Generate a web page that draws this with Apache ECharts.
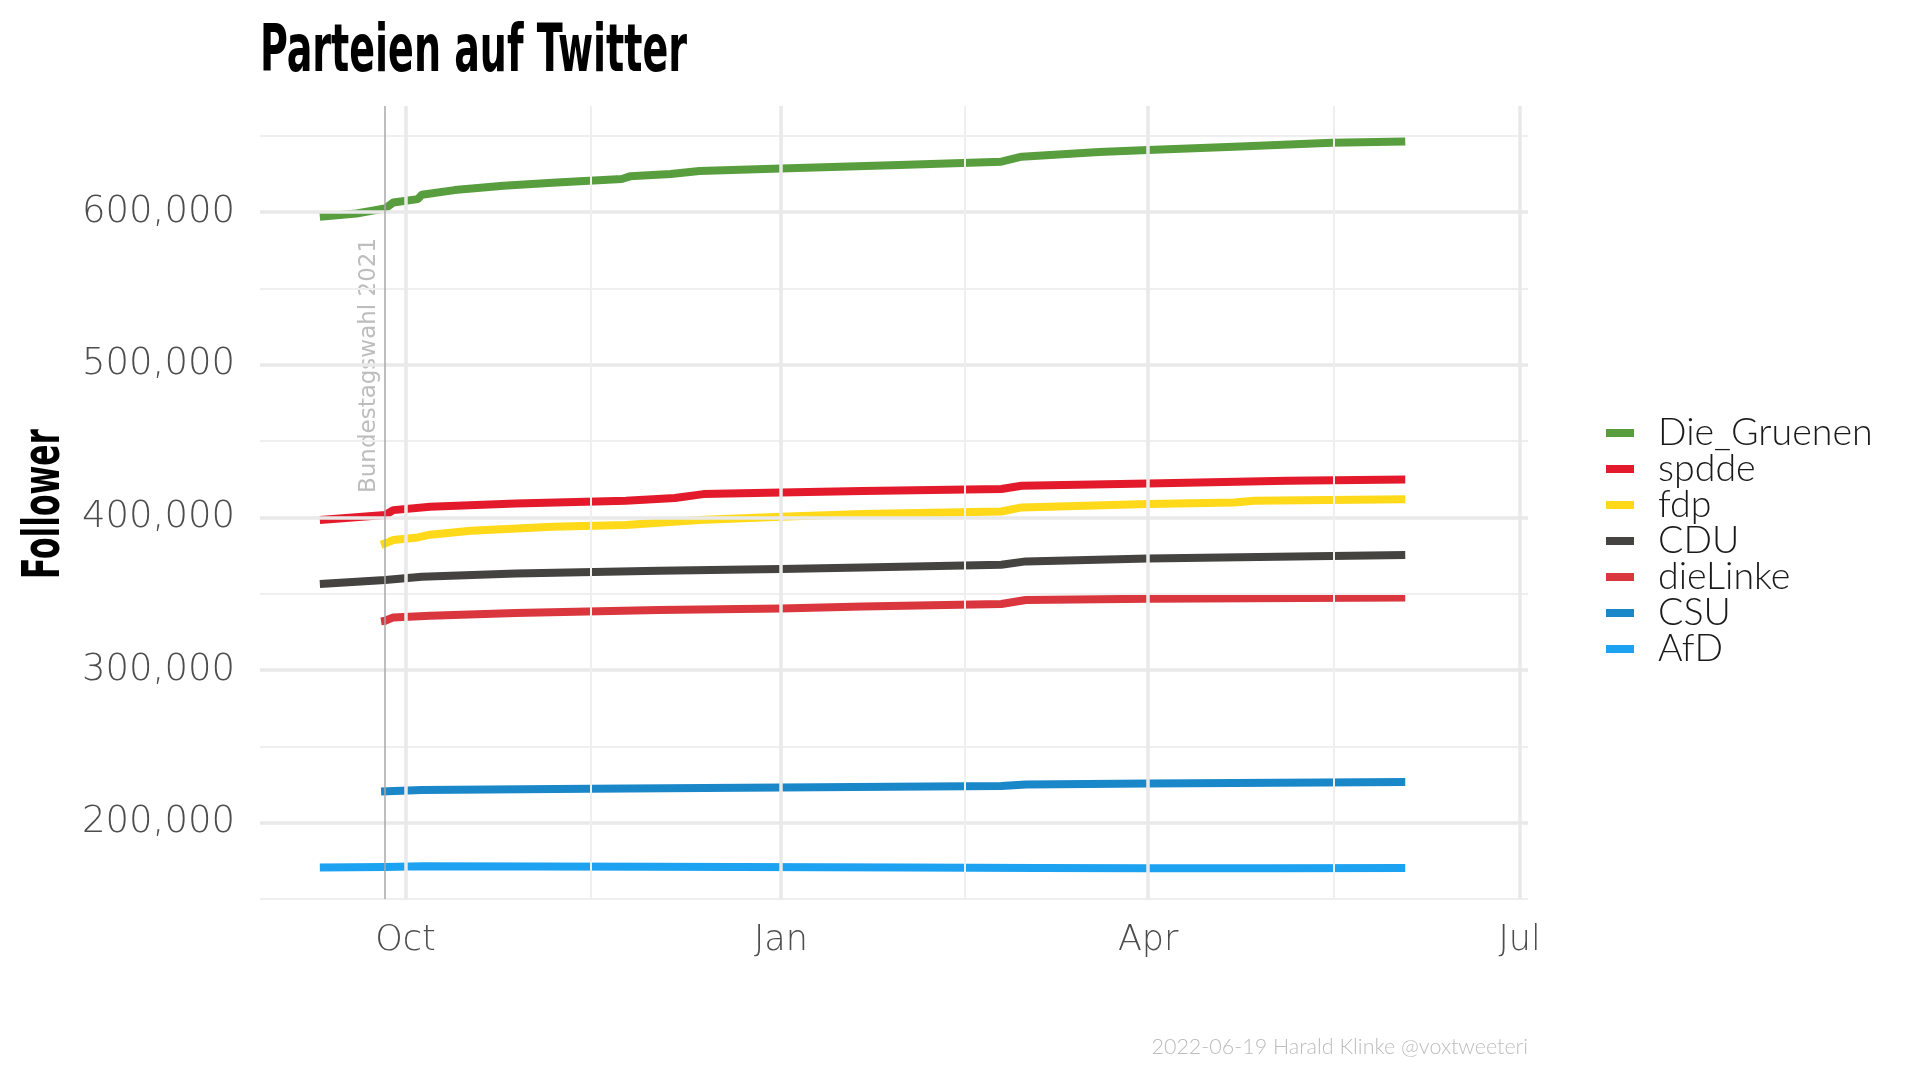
<!DOCTYPE html>
<html><head><meta charset="utf-8">
<script src="https://cdn.jsdelivr.net/npm/echarts@6/dist/echarts.min.js"></script>
<style>html,body{margin:0;padding:0;background:#fff}#c{width:1920px;height:1080px}</style>
</head><body><div id="c"></div>
<script>
// ---------- data ----------
const seriesNames = ['Die_Gruenen','spdde','fdp','CDU','dieLinke','CSU','AfD'];
const seriesColors = ['#599e3e','#e31a2b','#ffd91a','#454340','#da363d','#1a87c9','#1ca2f1'];

const gruenenDates  = ['2021-09-10','2021-09-19','2021-09-26','2021-09-28','2021-10-04','2021-10-05','2021-10-13','2021-10-25','2021-11-07','2021-11-23','2021-11-25','2021-12-05','2021-12-12','2022-01-01','2022-01-30','2022-02-24','2022-03-01','2022-03-20','2022-04-01','2022-04-22','2022-05-16','2022-06-03'];
const gruenenValues = [597100,599200,602500,606400,608600,611500,614500,617400,619500,621800,623500,625000,627000,628700,630900,633100,636400,639400,640800,642900,645500,646400];

const spddeDates  = ['2021-09-10','2021-09-26','2021-09-28','2021-10-07','2021-10-28','2021-11-24','2021-12-06','2021-12-13','2022-01-01','2022-01-21','2022-02-24','2022-03-01','2022-04-01','2022-05-05','2022-06-03'];
const spddeValues = [398300,401600,404800,407000,409200,410900,412700,415300,416400,417300,418600,420800,422300,424000,424900];

const fdpDates  = ['2021-09-25','2021-09-26','2021-09-28','2021-10-04','2021-10-07','2021-10-17','2021-11-06','2021-11-24','2021-12-12','2022-01-01','2022-01-21','2022-02-24','2022-03-01','2022-04-01','2022-04-22','2022-04-27','2022-06-03'];
const fdpValues = [382100,383000,385200,386900,388700,391300,393900,395000,398300,400500,402200,403900,406600,408800,409800,410900,412000];

const cduDates  = ['2021-09-10','2021-09-26','2021-10-05','2021-10-28','2021-12-02','2022-01-01','2022-01-21','2022-02-24','2022-03-02','2022-04-01','2022-06-03'];
const cduValues = [356400,359000,361100,363300,365100,366200,367200,369000,371200,373100,375400];

const linkeDates  = ['2021-09-25','2021-09-26','2021-09-28','2021-10-07','2021-10-28','2021-12-02','2022-01-01','2022-01-21','2022-02-24','2022-03-02','2022-04-01','2022-06-03'];
const linkeValues = [331900,332300,334500,335600,337400,339300,340400,341700,343300,345900,346700,347600];

const csuDates  = ['2021-09-25','2021-10-05','2021-11-15','2022-01-01','2022-02-24','2022-03-02','2022-04-01','2022-06-03'];
const csuValues = [220500,221500,222200,223000,224000,225000,225600,226700];

const afdDates  = ['2021-09-10','2021-09-26','2021-10-05','2021-12-01','2022-02-01','2022-03-05','2022-04-01','2022-05-01','2022-06-03'];
const afdValues = [170600,170900,171400,171100,170700,170300,170200,170100,170300];

const xTickDates   = ['2021-10-01','2022-01-01','2022-04-01','2022-07-01'];
const xTickLabels  = ['Oct','Jan','Apr','Jul'];
const xMinorDates  = ['2021-11-15T12:00','2022-02-15','2022-05-16T12:00'];
const xRange       = ['2021-08-26T08:00','2022-07-03T02:00'];
const yMajorTicks  = [200000,300000,400000,500000,600000];
const yMinorTicks  = [150000,250000,350000,450000,550000,650000];
const yRange       = [150000,669600];
const electionDate = '2021-09-26';
const annotationText = 'Bundestagswahl 2021';
const annotationValue = 416000;
const titleText = 'Parteien auf Twitter';
const yTitleText = 'Follower';
const captionText = '2022-06-19 Harald Klinke @voxtweeteri';

// ---------- helpers ----------
function ts(s){ return Date.parse(s.length === 10 ? s + 'T00:00:00Z' : s + ':00Z'); }
function pairs(d, v){ return d.map((x,i)=>[ts(x), v[i]]); }
const allData = [
  pairs(gruenenDates,gruenenValues), pairs(spddeDates,spddeValues), pairs(fdpDates,fdpValues),
  pairs(cduDates,cduValues), pairs(linkeDates,linkeValues), pairs(csuDates,csuValues), pairs(afdDates,afdValues)
];
const tickTs = xTickDates.map(ts);
function measure(text, font){
  const c = document.createElement('canvas').getContext('2d'); c.font = font;
  return c.measureText(text).width;
}
function fitScale(text, font, w){ return w / measure(text, font); }
function fitSize(text, weight, family, w){ return Math.round(20 * w / measure(text, weight + ' 20px ' + family) * 10) / 10; }

const lightFont = '"DejaVu Sans", sans-serif';
const legendFont = 'Lato, Roboto, "DejaVu Sans", sans-serif';
const condFont = '"Liberation Sans Narrow", "DejaVu Sans Condensed", "Liberation Sans", sans-serif';
const legendSize = fitSize('Die_Gruenen', '300', legendFont, 215);
const captionSize = fitSize(captionText, '300', legendFont, 377);

const majorLine = {color:'#e9e9e9', width:3.5, type:'solid'};
const minorLine = {color:'#efefef', width:2, type:'solid'};
const gridMarks = []
  .concat(yMinorTicks.map(v=>({yAxis:v, lineStyle:minorLine})))
  .concat(yMajorTicks.map(v=>({yAxis:v, lineStyle:majorLine})))
  .concat(xMinorDates.map(d=>({xAxis:ts(d), lineStyle:minorLine})))
  .concat(xTickDates.map(d=>({xAxis:ts(d), lineStyle:majorLine})))
  .concat([{xAxis:ts(electionDate), lineStyle:{color:'#a8a8a8', width:1.5, type:'solid'}}]);

const chart = echarts.init(document.getElementById('c'), null, {renderer:'canvas'});

const series = [{
  name:'_grid', type:'line', data: allData[0], symbol:'none', silent:true, z:0,
  lineStyle:{opacity:0}, tooltip:{show:false},
  markLine:{silent:true, symbol:['none','none'], label:{show:false}, animation:false, data: gridMarks}
}].concat(seriesNames.map((n,i)=>({
  name:n, type:'line', data:allData[i], symbol:'none', z:2, color:seriesColors[i],
  lineStyle:{width:8, color:seriesColors[i], cap:'butt', join:'round'}
})));

chart.setOption({
  animation:false,
  backgroundColor:'#ffffff',
  grid:{left:260, right:392, top:106, bottom:181, containLabel:false},
  xAxis:{
    type:'value', min:ts(xRange[0]), max:ts(xRange[1]), scale:true,
    axisLine:{show:false}, axisTick:{show:false}, splitLine:{show:false},
    axisLabel:{
      customValues: tickTs, margin:24,
      fontFamily:lightFont, fontWeight:200, fontSize:35, color:'#4d4d4d',
      formatter:function(v){
        for (let i=0;i<tickTs.length;i++){ if (Math.abs(v - tickTs[i]) < 43200000) return xTickLabels[i]; }
        return '';
      }
    }
  },
  yAxis:{
    type:'value', min:yRange[0], max:yRange[1], interval:50000,
    axisLine:{show:false}, axisTick:{show:false}, splitLine:{show:false},
    axisLabel:{
      margin:25, fontFamily:lightFont, fontWeight:200, fontSize:37, color:'#4d4d4d',
      showMaxLabel:false,
      formatter:function(v){ return (v % 100000 === 0) ? v.toLocaleString('en-US') : ''; }
    }
  },
  legend:{
    orient:'vertical', left:1601, top:409, itemWidth:28, itemHeight:8, itemGap:-2, icon:'rect',
    data: seriesNames,
    textStyle:{fontFamily:legendFont, fontWeight:300, fontSize:legendSize, color:'#1a1a1a', lineHeight:34.5, padding:[0,0,0,19]}
  },
  series: series
});

const titleFont = 'bold 66px ' + condFont;
const yTitleFont = 'bold 52px ' + condFont;
const p = chart.convertToPixel({xAxisIndex:0, yAxisIndex:0}, [ts(electionDate), annotationValue]);
chart.setOption({
  graphic:[
    {type:'text', x:260, y:54, scaleX: fitScale(titleText, titleFont, 427), originX:0,
     style:{text:titleText, font:titleFont, fill:'#000', textAlign:'left', textVerticalAlign:'middle'}},
    {type:'text', x:45, y:504, rotation:Math.PI/2, scaleX: fitScale(yTitleText, yTitleFont, 150),
     style:{text:yTitleText, font:yTitleFont, fill:'#000', textAlign:'center', textVerticalAlign:'middle'}},
    {type:'text', x:p[0]-16, y:p[1], rotation:Math.PI/2,
     style:{text:annotationText, font:'23px "DejaVu Sans", sans-serif', fill:'#bdbdbd', textAlign:'left', textVerticalAlign:'middle'}},
    {type:'text', x:1528, y:1047,
     style:{text:captionText, font:'300 ' + captionSize + 'px ' + legendFont, fill:'#bdbdbd', textAlign:'right', textVerticalAlign:'middle'}}
  ]
});
</script></body></html>
